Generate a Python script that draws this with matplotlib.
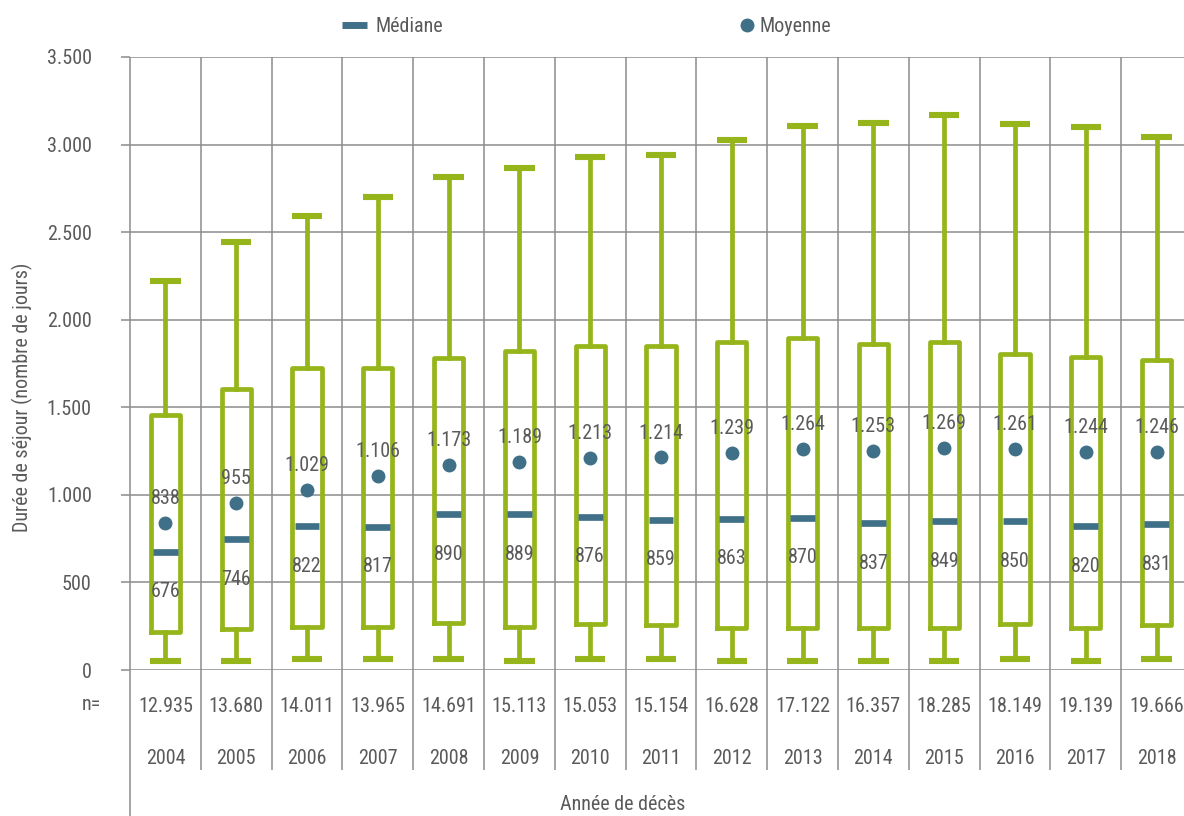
import numpy as np
import matplotlib
matplotlib.use("Agg")
import matplotlib.pyplot as plt
import matplotlib.transforms as mtransforms
from matplotlib.lines import Line2D
from matplotlib import font_manager

_available = {f.name for f in font_manager.fontManager.ttflist}
_main = next((f for f in ['Roboto Condensed', 'Liberation Sans Narrow',
                          'Sofia Sans Semi Condensed'] if f in _available), 'DejaVu Sans')
plt.rcParams['font.family'] = [_main, 'DejaVu Sans']

# ---- data ----
years = ["2004", "2005", "2006", "2007", "2008", "2009", "2010", "2011",
         "2012", "2013", "2014", "2015", "2016", "2017", "2018"]
n_values = [12935, 13680, 14011, 13965, 14691, 15113, 15053, 15154,
            16628, 17122, 16357, 18285, 18149, 19139, 19666]
medians = [676, 746, 822, 817, 890, 889, 876, 859, 863, 870, 837, 849, 850, 820, 831]
means = [838, 955, 1029, 1106, 1173, 1189, 1213, 1214, 1239, 1264, 1253, 1269, 1261, 1244, 1246]
q1 = [217, 236, 244, 244, 268, 246, 260, 257, 242, 242, 242, 242, 261, 242, 255]
q3 = [1454, 1606, 1722, 1722, 1779, 1819, 1851, 1851, 1870, 1895, 1861, 1870, 1804, 1787, 1770]
whis_low = [53, 53, 63, 63, 63, 53, 61, 61, 53, 53, 53, 53, 61, 53, 61]
whis_high = [2223, 2446, 2594, 2703, 2817, 2867, 2927, 2941, 3025, 3107, 3124, 3171, 3116, 3099, 3042]
yticks = [0, 500, 1000, 1500, 2000, 2500, 3000, 3500]

GREEN = "#95b51b"
BLUE = "#3f7087"
TEXT = "#5a5a5a"
GRID = "#8c8c8c"
FS = 14.5

def fmt(v):
    return f"{v:,}".replace(",", ".")

W, H = 1184, 816
fig = plt.figure(figsize=(W / 100, H / 100), dpi=100)
left, right, top, bottom = 130, 1192, 57, 670
ax = fig.add_axes([left / W, 1 - bottom / H, (right - left) / W, (bottom - top) / H])

pos = np.arange(len(years))
stats = []
for i in range(len(years)):
    stats.append(dict(med=medians[i], q1=q1[i], q3=q3[i], whislo=whis_low[i],
                      whishi=whis_high[i], mean=means[i], fliers=[]))

ax.bxp(stats, positions=pos, widths=0.41, showmeans=False, showfliers=False,
       boxprops=dict(color=GREEN, linewidth=3.4),
       whiskerprops=dict(color=GREEN, linewidth=3.4),
       capprops=dict(color=GREEN, linewidth=4.4, solid_capstyle='butt'),
       medianprops=dict(linewidth=0), capwidths=0.43, zorder=3)

# medians
ax.hlines(medians, pos - 0.175, pos + 0.175, color=BLUE, linewidth=4.8, zorder=4)
# means
ax.plot(pos, means, 'o', color=BLUE, markersize=9, zorder=4, linestyle='none')

for i in range(len(years)):
    ax.annotate(fmt(means[i]), (pos[i], means[i]), xytext=(0, 17.5),
                textcoords='offset points', ha='center', va='center',
                fontsize=FS, color=TEXT, zorder=5)
    ax.annotate(fmt(medians[i]), (pos[i], medians[i]), xytext=(0, -28.8),
                textcoords='offset points', ha='center', va='center',
                fontsize=FS, color=TEXT, zorder=5)

ax.set_xlim(-0.5, len(years) - 0.5)
ax.set_ylim(0, 3500)
ax.set_yticks(yticks)
ax.set_yticklabels([fmt(v) for v in yticks])
ax.set_xticks([])
ax.tick_params(axis='y', length=6.5, width=1.1, color=GRID, labelsize=FS,
               labelcolor=TEXT, pad=21)
ax.yaxis.grid(True, color=GRID, linewidth=1.1, zorder=0)
ax.set_axisbelow(True)
for s in ['top', 'right', 'bottom', 'left']:
    ax.spines[s].set_visible(False)

trans = mtransforms.blended_transform_factory(ax.transData, ax.transAxes)
ah = bottom - top
def ay(py):
    return (bottom - py) / ah

# vertical separators
bounds = np.arange(-0.5, len(years))
ax.vlines(bounds[1:], ay(770), 1, transform=trans, color=GRID, linewidth=1.1,
          clip_on=False, zorder=1)
ax.vlines([bounds[0]], ay(816), 1, transform=trans, color=GRID, linewidth=1.1,
          clip_on=False, zorder=1)

for i in range(len(years)):
    ax.text(pos[i], ay(707), fmt(n_values[i]), transform=trans, ha='center',
            va='center', fontsize=FS, color=TEXT)
    ax.text(pos[i], ay(758), years[i], transform=trans, ha='center',
            va='center', fontsize=FS, color=TEXT)

fig.text(101 / W, 1 - 704 / H, "n=", ha='right', va='center', fontsize=FS, color=TEXT)
fig.text(623 / W, 1 - 805 / H, "Année de décès", ha='center', va='center',
         fontsize=FS, color=TEXT)
fig.text(22 / W, 1 - 397 / H, "Durée de séjour (nombre de jours)", rotation=90,
         ha='center', va='center', fontsize=FS, color=TEXT)

# legend (two entries placed separately)
h1 = Line2D([], [], color=BLUE, linewidth=5, solid_capstyle='butt')
h2 = Line2D([], [], color=BLUE, marker='o', markersize=9, linestyle='none')
leg1 = fig.legend([h1], ["Médiane"], loc='center left',
                  bbox_to_anchor=(342 / W, 1 - 27 / H), frameon=False,
                  fontsize=FS, handlelength=1.24, handletextpad=0.4,
                  borderaxespad=0, borderpad=0)
leg2 = fig.legend([h2], ["Moyenne"], loc='center left',
                  bbox_to_anchor=(741 / W, 1 - 27 / H), frameon=False,
                  fontsize=FS, handlelength=0.6, handletextpad=0.3,
                  borderaxespad=0, borderpad=0)
for lg in (leg1, leg2):
    for t in lg.get_texts():
        t.set_color(TEXT)

fig.savefig("out.png", dpi=100)
